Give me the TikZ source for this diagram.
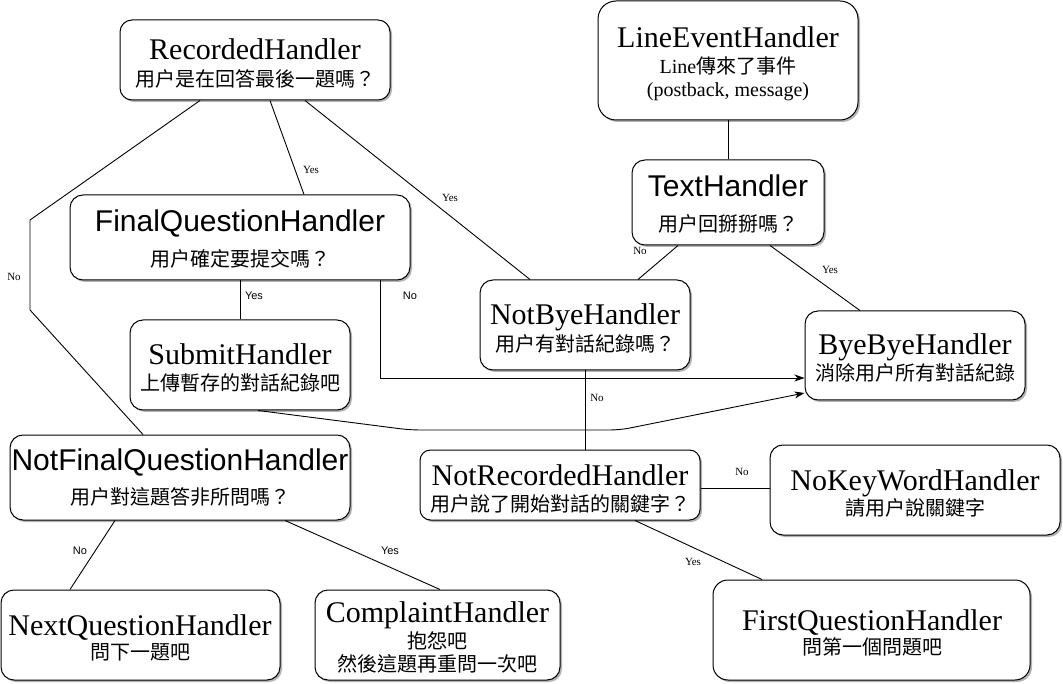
\documentclass[tikz,border=0pt]{standalone}
\usepackage{fontspec}
\setmainfont{Liberation Serif}
\setsansfont{Liberation Sans}
\newfontfamily\cjk{Noto Sans CJK TC}
\usetikzlibrary{arrows.meta,shadows}
\tikzset{
  box/.style={draw,line width=1pt,rounded corners=13pt,fill=white,inner sep=0pt,
    drop shadow={shadow xshift=2pt,shadow yshift=-2pt,fill=black,opacity=0.3}},
  ttl/.style={font=\fontsize{30}{30}\selectfont,anchor=base},
  stl/.style={font=\sffamily\fontsize{30}{30}\selectfont,anchor=base},
  sub/.style={font=\cjk\fontsize{20}{20}\selectfont},
  lbl/.style={font=\fontsize{11}{11}\selectfont},
  slbl/.style={font=\sffamily\fontsize{11}{11}\selectfont},
  ln/.style={line width=0.9pt},
  arr/.style={line width=0.9pt,-{Stealth[length=10pt,width=7pt,inset=3pt]}}
}

\begin{document}
\begin{tikzpicture}[x=1pt,y=-1pt]
\useasboundingbox (0,0) rectangle (1063,684);
% boxes
\node[box,minimum width=270pt,minimum height=80pt,rounded corners=12pt] (rec) at (255,60) {};
\node[box,minimum width=260pt,minimum height=119pt,rounded corners=18pt] (line) at (728,60.5) {};
\node[box,minimum width=192pt,minimum height=85pt] (text) at (728,202.5) {};
\node[box,minimum width=340pt,minimum height=85pt] (finq) at (240,237.5) {};
\node[box,minimum width=210pt,minimum height=90pt] (nobye) at (585,325) {};
\node[box,minimum width=220pt,minimum height=89pt] (bye) at (915,355.5) {};
\node[box,minimum width=220pt,minimum height=90pt] (submit) at (240,365) {};
\node[box,minimum width=340pt,minimum height=85pt] (nofinal) at (180,477.5) {};
\node[box,minimum width=280pt,minimum height=70pt,rounded corners=10.5pt] (notrec) at (560,485) {};
\node[box,minimum width=290pt,minimum height=90pt] (nokey) at (915,490) {};
\node[box,minimum width=279pt,minimum height=90pt] (nextq) at (140.5,635) {};
\node[box,minimum width=245pt,minimum height=90pt] (compl) at (437.5,635) {};
\node[box,minimum width=317pt,minimum height=100pt,rounded corners=15pt] (firstq) at (871.5,630) {};

% texts
\node[ttl] (rec-t) at (255,60) {RecordedHandler};
\node[sub] (rec-s) at (255,79) {用户是在回答最後一題嗎？};
\node[ttl] (line-t) at (728,48) {LineEventHandler};
\node[anchor=base,font=\fontsize{20}{20}\selectfont] (line-s) at (728,74) {Line{\cjk 傳來了事件}};
\node[anchor=base,font=\fontsize{20}{20}\selectfont] (line-u) at (728,97) {(postback, message)};
\node[stl] (text-t) at (728,197) {TextHandler};
\node[sub] (text-s) at (728,224) {用户回掰掰嗎？};
\node[stl] (finq-t) at (240,232) {FinalQuestionHandler};
\node[sub] (finq-s) at (240,259) {用户確定要提交嗎？};
\node[ttl] (nobye-t) at (585,325) {NotByeHandler};
\node[sub] (nobye-s) at (585,344) {用户有對話紀錄嗎？};
\node[ttl] (bye-t) at (915,355) {ByeByeHandler};
\node[sub] (bye-s) at (915,373) {消除用户所有對話紀錄};
\node[ttl] (submit-t) at (240,365) {SubmitHandler};
\node[sub] (submit-s) at (240,383) {上傳暫存的對話紀錄吧};
\node[stl] (nofinal-t) at (180,470) {NotFinalQuestionHandler};
\node[sub] (nofinal-s) at (180,497) {用户對這題答非所問嗎？};
\node[ttl] (notrec-t) at (560,485) {NotRecordedHandler};
\node[sub] (notrec-s) at (560,504) {用户說了開始對話的關鍵字？};
\node[ttl] (nokey-t) at (915,490) {NoKeyWordHandler};
\node[sub] (nokey-s) at (915,508) {請用户說關鍵字};
\node[ttl] (nextq-t) at (140,635) {NextQuestionHandler};
\node[sub] (nextq-s) at (140,652) {問下一題吧};
\node[ttl] (compl-t) at (437.5,622) {ComplaintHandler};
\node[sub] (compl-s) at (437.5,641) {抱怨吧};
\node[sub] (compl-u) at (437.5,664) {然後這題再重問一次吧};
\node[ttl] (firstq-t) at (872,630) {FirstQuestionHandler};
\node[sub] (firstq-s) at (872,647) {問第一個問題吧};

% connectors
\draw[ln] (line) -- (text);
\draw[ln] (text.south -| 678,0) -- (nobye.north -| 638,0);
\draw[ln] (text.south -| 770,0) -- (bye.north -| 860,0);
\draw[ln] (nobye.south -| 585,0) -- (notrec.north -| 585,0);
\draw[ln] (notrec.east |- 0,488) -- (nokey.west |- 0,488);
\draw[ln] (notrec.south -| 635,0) -- (firstq.north -| 762,0);
\draw[ln] (rec.south -| 200,0) -- (30,220) -- (30,310) -- (nofinal.north -| 143,0);
\draw[ln] (rec.south -| 270,0) -- (finq.north -| 304,0);
\draw[ln] (rec.south -| 305,0) -- (nobye.north -| 530,0);
\draw[ln] (finq.south -| 240,0) -- (submit.north -| 240,0);
\draw[arr] (finq.south -| 380,0) |- (bye.west |- 0,378);
\draw[arr,rounded corners=10pt] (submit.south -| 258,0) -- (410,430) -- (620,430) -- (bye.west |- 0,393);
\draw[ln] (nofinal.south -| 115,0) -- (nextq.north -| 70,0);
\draw[ln] (nofinal.south -| 285,0) -- (compl.north -| 440,0);

% labels
\node[lbl] (l-rec-no) at (14,277) {No};
\node[lbl] (l-rec-y1) at (311,170) {Yes};
\node[lbl] (l-rec-y2) at (450,198) {Yes};
\node[lbl] (l-text-no) at (640,251) {No};
\node[lbl] (l-text-y) at (830,270) {Yes};
\node[lbl] (l-nobye-no) at (597,398) {No};
\node[lbl] (l-notrec-no) at (742,472) {No};
\node[lbl] (l-notrec-y) at (693,562) {Yes};
\node[slbl] (l-finq-y) at (254,296) {Yes};
\node[slbl] (l-finq-no) at (410,296) {No};
\node[slbl] (l-nofinal-no) at (80,551) {No};
\node[slbl] (l-nofinal-y) at (390,551) {Yes};
\end{tikzpicture}
\end{document}
